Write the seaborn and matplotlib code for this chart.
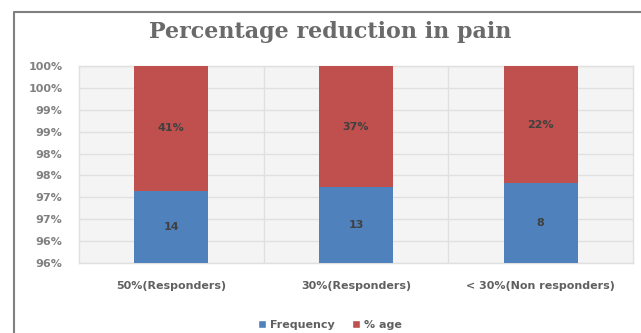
import numpy as np
import pandas as pd
import seaborn as sns
import matplotlib
matplotlib.use("Agg")
import matplotlib.pyplot as plt
from matplotlib.patches import Patch
from matplotlib.lines import Line2D

# Data
groups = ["50%(Responders)", "30%(Responders)", "< 30%(Non responders)"]
frequency = [14, 13, 8]
pct_age = [0.41, 0.37, 0.22]
freq_labels = ["14", "13", "8"]
pct_labels = ["41%", "37%", "22%"]
y_tick_labels = ["96%", "96%", "97%", "97%", "98%", "98%", "99%", "99%", "100%", "100%"]

BLUE = "#4F81BD"
RED = "#C0504D"

# 100% stacked shares
df = pd.DataFrame({"group": groups, "frequency": frequency, "pct": pct_age})
df["total"] = df["frequency"] + df["pct"]
df["freq_share"] = df["frequency"] / df["total"]
df["full"] = df["total"] / df["total"]

sns.set_style("white")
plt.rcParams["font.family"] = ["DejaVu Sans"]

fig = plt.figure(figsize=(6.41, 3.33), dpi=100)
fig.patch.set_facecolor("white")
ax = fig.add_axes([79 / 641, 1 - 263 / 333, (633 - 79) / 641, (263 - 66) / 333])
ax.set_facecolor("#f4f4f4")

sns.barplot(data=df, x="group", y="full", color=RED, width=0.4, saturation=1,
            linewidth=0, ax=ax, zorder=3)
sns.barplot(data=df, x="group", y="freq_share", color=BLUE, width=0.4, saturation=1,
            linewidth=0, ax=ax, zorder=3)

ymin, ymax = 0.955, 1.0
ax.set_ylim(ymin, ymax)
ax.set_xlim(-0.5, 2.5)
yt = np.linspace(ymin, ymax, len(y_tick_labels))
ax.set_yticks(yt)
ax.set_yticklabels(y_tick_labels)
ax.grid(axis="y", color="#e0e0e0", lw=1, zorder=0)
for xb in [0.5, 1.5]:
    ax.axvline(xb, color="#e0e0e0", lw=1, zorder=0)
for s in ax.spines.values():
    s.set_color("#e0e0e0")
    s.set_linewidth(1)

ax.tick_params(axis="y", length=0, pad=12, labelsize=8, labelcolor="#808080")
ax.tick_params(axis="x", length=0, pad=13, labelsize=8, labelcolor="#606060")
for t in ax.get_yticklabels():
    t.set_fontweight("bold")
for t in ax.get_xticklabels():
    t.set_fontweight("bold")
ax.set_xlabel("")
ax.set_ylabel("")

# Segment labels at the middle of the visible part of each segment
for i, row in df.iterrows():
    share = row["freq_share"]
    ax.text(i, (ymin + share) / 2, freq_labels[i],
            ha="center", va="center", fontsize=8, fontweight="bold", color="#404040", zorder=4)
    ax.text(i, (share + row["full"]) / 2, pct_labels[i],
            ha="center", va="center", fontsize=8, fontweight="bold", color="#404040", zorder=4)

fig.suptitle("Percentage reduction in pain", x=0.515, y=1 - 32 / 333, va="center",
             fontsize=16, fontweight="bold", color="#6a6a6a", family="DejaVu Serif")

handles = [Patch(facecolor=BLUE, label="Frequency"), Patch(facecolor=RED, label="% age")]
leg = fig.legend(handles=handles, loc="center", bbox_to_anchor=(0.515, 1 - 325 / 333),
                 ncol=2, frameon=False, handlelength=0.7, handleheight=0.7,
                 handletextpad=0.4, columnspacing=1.5,
                 prop={"size": 8, "weight": "bold"})
for t in leg.get_texts():
    t.set_color("#606060")

# Chart frame
fig.add_artist(Line2D([14 / 641, 14 / 641, 1.0], [0.0, 1 - 12 / 333, 1 - 12 / 333],
                      color="#808080", lw=1.5, transform=fig.transFigure))

fig.savefig("out.png", dpi=100)
